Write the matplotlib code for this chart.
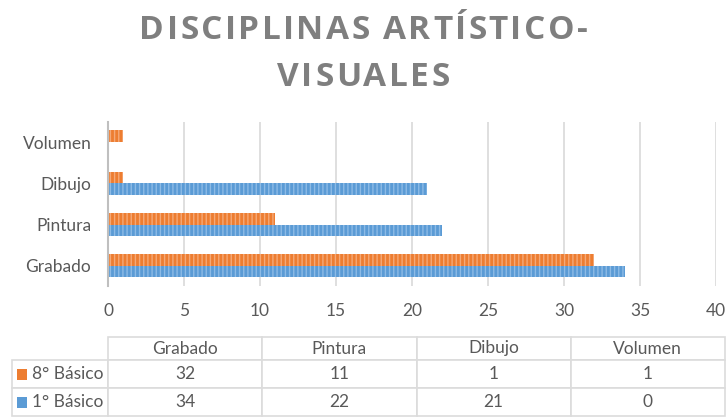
import matplotlib
matplotlib.use('Agg')
import matplotlib.pyplot as plt
from matplotlib.patches import Rectangle
import numpy as np

# ---- data ----
categories = ['Grabado', 'Pintura', 'Dibujo', 'Volumen']
series_names = ['8° Básico', '1° Básico']
values_8 = [32, 11, 1, 1]
values_1 = [34, 22, 21, 0]
x_ticks = [0, 5, 10, 15, 20, 25, 30, 35, 40]
title_lines = ['DISCIPLINAS ARTÍSTICO-', 'VISUALES']

ORANGE = '#ED7D31'
BLUE = '#5B9BD5'
ORANGE_H = '#F5A977'
BLUE_H = '#8DBBE6'
TEXT = '#595959'
GRID = '#d9d9d9'
FONT = 'Lato'

plt.rcParams['hatch.linewidth'] = 1.0

W, H = 727, 418
fig = plt.figure(figsize=(W / 100, H / 100), dpi=100)
ax_l, ax_r, ax_t, ax_b = 108, 716, 121.5, 286.3
ax = fig.add_axes([ax_l / W, 1 - ax_b / H, (ax_r - ax_l) / W, (ax_b - ax_t) / H])

y = np.arange(len(categories))
h = 0.283
ax.barh(y + h / 2, values_8, height=h, color=ORANGE, edgecolor=ORANGE_H,
        linewidth=0, hatch='||||', zorder=2)
ax.barh(y - h / 2, values_1, height=h, color=BLUE, edgecolor=BLUE_H,
        linewidth=0, hatch='||||', zorder=2)

ax.set_xlim(0, 40)
ax.set_ylim(-0.5, len(categories) - 0.5)
ax.set_xticks(x_ticks)
ax.set_xticklabels([str(t) for t in x_ticks], fontsize=12.5, color=TEXT, family=FONT)
ax.set_yticks(y)
ax.set_yticklabels(categories, fontsize=12.5, color=TEXT, family=FONT)
ax.tick_params(axis='both', length=0)
ax.tick_params(axis='x', pad=12)
ax.tick_params(axis='y', pad=12)
ax.grid(axis='x', color=GRID, linewidth=1.2, zorder=0)
ax.set_axisbelow(True)
for s in ['top', 'right', 'bottom']:
    ax.spines[s].set_visible(False)
ax.spines['left'].set_color('#bfbfbf')
ax.spines['left'].set_linewidth(1.5)
ax.spines['left'].set_zorder(3)

# ---- title with letter spacing (characters placed one by one) ----
renderer = fig.canvas.get_renderer()
title_kw = dict(fontsize=24, fontweight='bold', color='#7f7f7f',
                family=['Open Sans', 'DejaVu Sans'], va='baseline', ha='left')
spacing = 2.4  # px between letters
for line, yb in zip(title_lines, [39, 86]):
    widths = []
    for ch in line:
        if ch == ' ':
            t = fig.text(0, 0, 'a a', **title_kw)
            wa = fig.text(0, 0, 'aa', **title_kw)
            wdt = t.get_window_extent(renderer).width - wa.get_window_extent(renderer).width
            t.remove(); wa.remove()
        else:
            t = fig.text(0, 0, ch, **title_kw)
            wdt = t.get_window_extent(renderer).width
            t.remove()
        widths.append(wdt)
    total = sum(widths) + spacing * (len(line) - 1)
    x = W / 2 - total / 2
    for ch, wdt in zip(line, widths):
        if ch != ' ':
            fig.text(x / W, 1 - yb / H, ch, **title_kw)
        x += wdt + spacing

# ---- data table ----
tab_l, tab_r = 12, 725
tab_t, tab_b = 337, 416
label_w = 96
col_w = (tab_r - tab_l - label_w) / len(categories)
head_h, row_h = 23, 28

axw = ax_r - ax_l
axh = ax_b - ax_t
bbox = [(tab_l - ax_l) / axw, (ax_b - tab_b) / axh,
        (tab_r - tab_l) / axw, (tab_b - tab_t) / axh]

cell_text = [[series_names[0]] + [str(v) for v in values_8],
             [series_names[1]] + [str(v) for v in values_1]]
table = ax.table(cellText=cell_text, colLabels=[''] + categories,
                 colWidths=[label_w] + [col_w] * len(categories),
                 cellLoc='center', bbox=bbox)
table.auto_set_font_size(False)
for (r, c), cell in table.get_celld().items():
    cell.set_edgecolor('#dcdcdc')
    cell.set_linewidth(1.2)
    cell.set_height(head_h if r == 0 else row_h)
    cell.get_text().set_color(TEXT)
    cell.get_text().set_fontsize(12.5)
    cell.get_text().set_family(FONT)
    if r == 0 and c == 0:
        cell.visible_edges = ''
    if c == 0 and r > 0:
        cell.get_text().set_horizontalalignment('left')
        cell.PAD = 0.205

# legend keys inside the table
key_colors = [ORANGE, BLUE]
for i, col in enumerate(key_colors):
    yc = tab_t + head_h + row_h * i + row_h / 2
    fig.patches.append(Rectangle(((tab_l + 5) / W, 1 - (yc + 5.5) / H), 10 / W, 11 / H,
                                 transform=fig.transFigure, facecolor=col,
                                 edgecolor='none'))

fig.savefig('out.png', dpi=100)
